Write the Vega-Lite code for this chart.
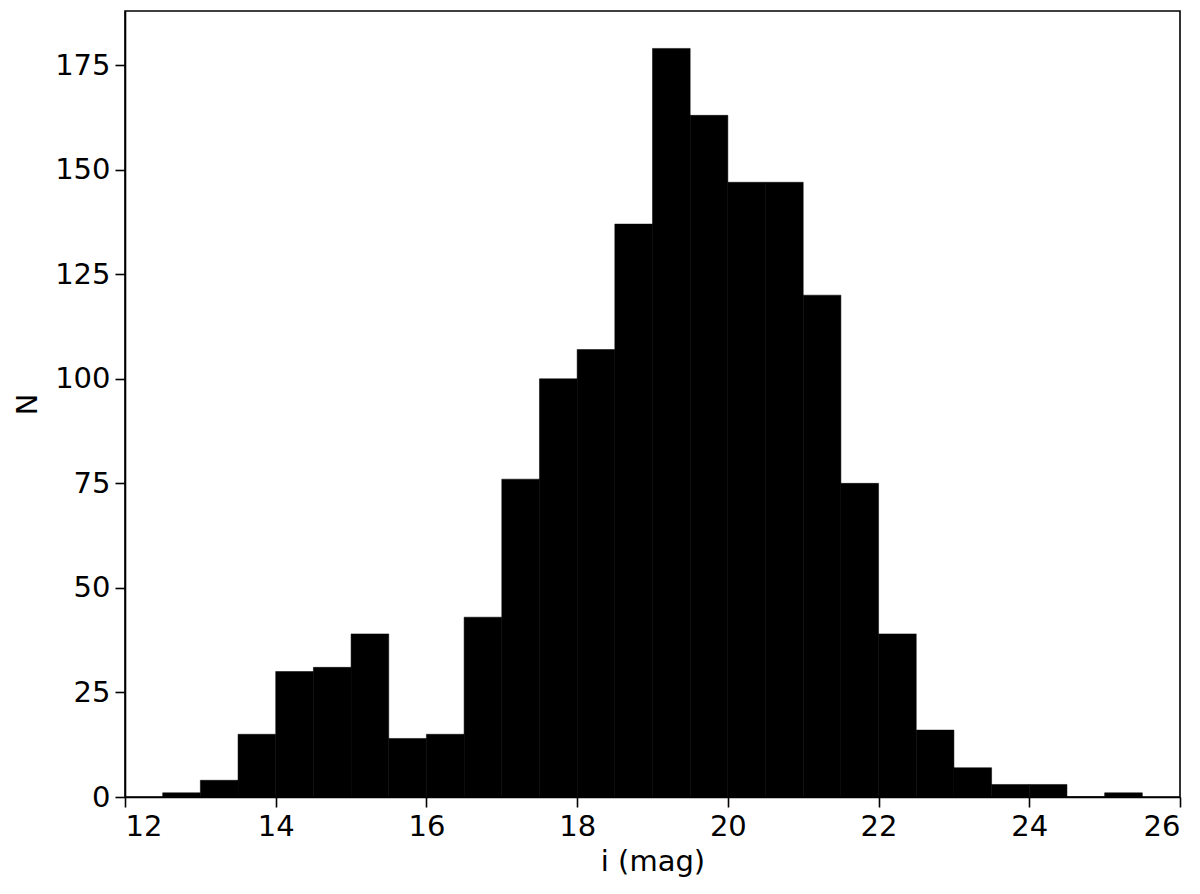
{
  "$schema": "https://vega.github.io/schema/vega-lite/v6.json",
  "width": 1055,
  "height": 786,
  "autosize": {"type": "none"},
  "padding": {"left": 125, "top": 11, "right": 20, "bottom": 97},
  "background": "white",
  "config": {
    "view": {"stroke": "black", "strokeWidth": 1.6},
    "font": "DejaVu Sans",
    "axis": {
      "labelFont": "DejaVu Sans",
      "titleFont": "DejaVu Sans",
      "labelFontSize": 29,
      "titleFontSize": 29,
      "titleFontWeight": "normal",
      "labelColor": "black",
      "titleColor": "black",
      "domainColor": "black",
      "domainWidth": 1.6,
      "tickColor": "black",
      "tickWidth": 1.6,
      "tickSize": 10,
      "labelPadding": 5,
      "grid": false
    }
  },
  "data": {
    "values": [
      {"lo": 12.5, "hi": 13.0, "n": 1},
      {"lo": 13.0, "hi": 13.5, "n": 4},
      {"lo": 13.5, "hi": 14.0, "n": 15},
      {"lo": 14.0, "hi": 14.5, "n": 30},
      {"lo": 14.5, "hi": 15.0, "n": 31},
      {"lo": 15.0, "hi": 15.5, "n": 39},
      {"lo": 15.5, "hi": 16.0, "n": 14},
      {"lo": 16.0, "hi": 16.5, "n": 15},
      {"lo": 16.5, "hi": 17.0, "n": 43},
      {"lo": 17.0, "hi": 17.5, "n": 76},
      {"lo": 17.5, "hi": 18.0, "n": 100},
      {"lo": 18.0, "hi": 18.5, "n": 107},
      {"lo": 18.5, "hi": 19.0, "n": 137},
      {"lo": 19.0, "hi": 19.5, "n": 179},
      {"lo": 19.5, "hi": 20.0, "n": 163},
      {"lo": 20.0, "hi": 20.5, "n": 147},
      {"lo": 20.5, "hi": 21.0, "n": 147},
      {"lo": 21.0, "hi": 21.5, "n": 120},
      {"lo": 21.5, "hi": 22.0, "n": 75},
      {"lo": 22.0, "hi": 22.5, "n": 39},
      {"lo": 22.5, "hi": 23.0, "n": 16},
      {"lo": 23.0, "hi": 23.5, "n": 7},
      {"lo": 23.5, "hi": 24.0, "n": 3},
      {"lo": 24.0, "hi": 24.5, "n": 3},
      {"lo": 24.5, "hi": 25.0, "n": 0},
      {"lo": 25.0, "hi": 25.5, "n": 1}
    ]
  },
  "mark": {"type": "rect", "color": "black", "stroke": "black", "strokeWidth": 0.5},
  "encoding": {
    "x": {
      "field": "lo",
      "type": "quantitative",
      "scale": {"domain": [12, 26], "nice": false, "zero": false},
      "axis": {"values": [12, 14, 16, 18, 20, 22, 24, 26], "title": "i (mag)", "titlePadding": 6}
    },
    "x2": {"field": "hi"},
    "y": {
      "field": "n",
      "type": "quantitative",
      "scale": {"domain": [0, 187.95], "nice": false},
      "axis": {"values": [0, 25, 50, 75, 100, 125, 150, 175], "title": "N", "titlePadding": 12}
    },
    "y2": {"datum": 0}
  }
}
